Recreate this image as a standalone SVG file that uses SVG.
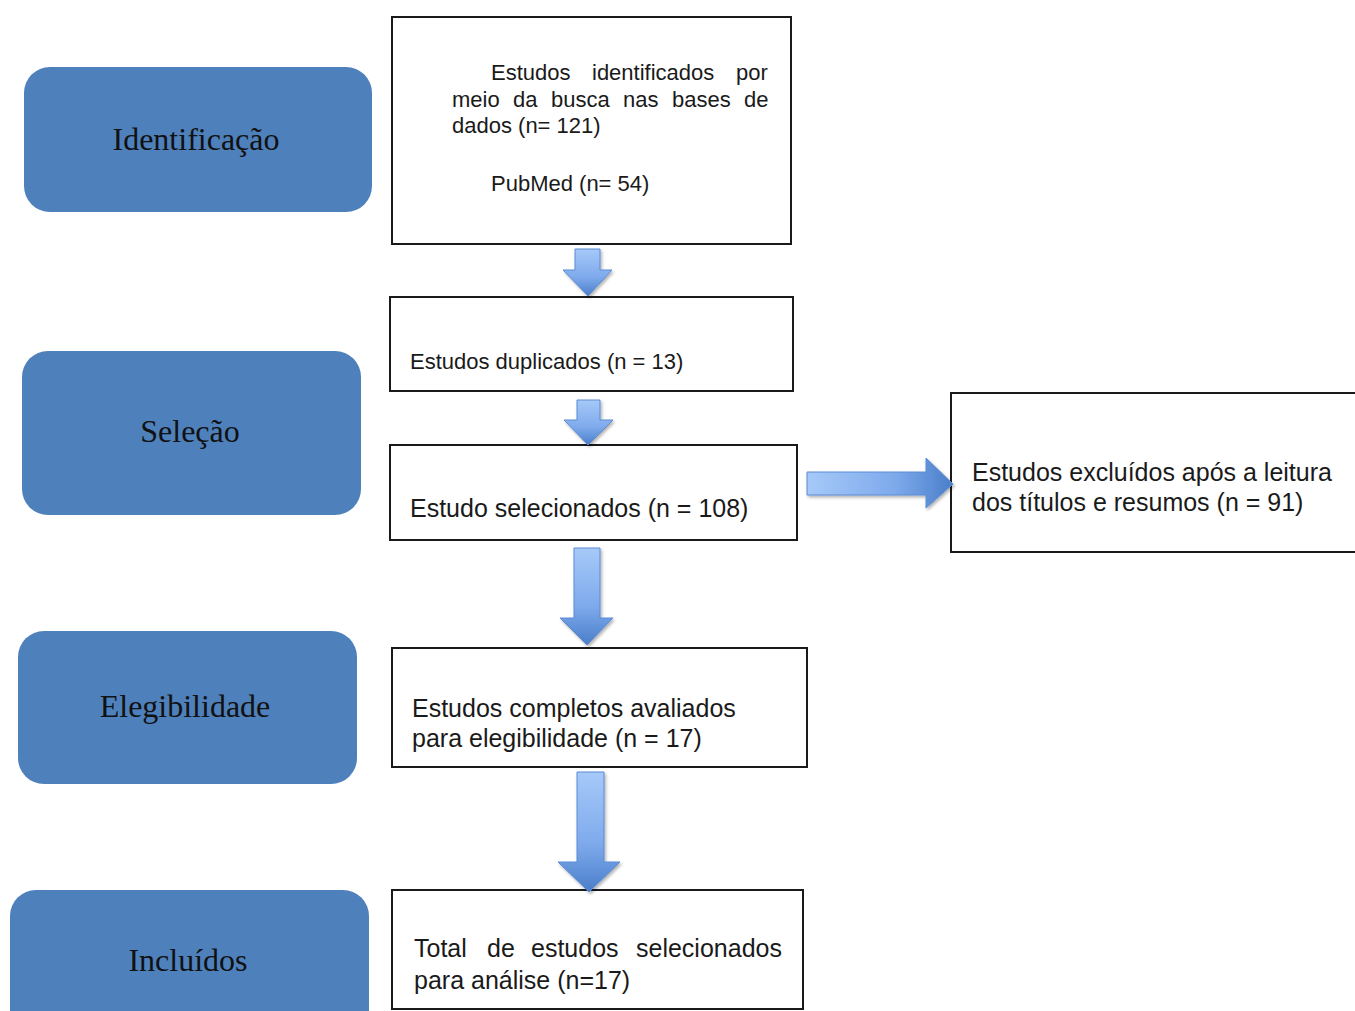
<svg xmlns="http://www.w3.org/2000/svg" width="1355" height="1011" viewBox="0 0 1355 1011">
<defs>
<linearGradient id="gv" x1="0" y1="0" x2="0" y2="1">
<stop offset="0" stop-color="#a6c9f8"/>
<stop offset="0.6" stop-color="#7eaaec"/>
<stop offset="1" stop-color="#4a7ec9"/>
</linearGradient>
<linearGradient id="gh" x1="0" y1="0" x2="1" y2="0">
<stop offset="0" stop-color="#a6c9f8"/>
<stop offset="0.6" stop-color="#7eaaec"/>
<stop offset="1" stop-color="#4a7ec9"/>
</linearGradient>
<filter id="sh" x="-30%" y="-30%" width="160%" height="160%">
<feDropShadow dx="1.5" dy="2" stdDeviation="1.8" flood-color="#000" flood-opacity="0.3"/>
</filter>
</defs>
<style>
.stage{fill:#4e80bc;}
.stxt{font-family:"Liberation Serif","Times New Roman",serif;font-size:32px;fill:#111;text-anchor:middle;}
.box{fill:#fff;stroke:#1a1a1a;stroke-width:2;}
.t22{font-family:"Liberation Sans",Arial,sans-serif;font-size:22px;fill:#1a1a1a;}
.t25{font-family:"Liberation Sans",Arial,sans-serif;font-size:25px;fill:#1a1a1a;}
.arr{stroke:#5b8bd3;stroke-width:1;filter:url(#sh);}
</style>
<rect width="1355" height="1011" fill="#fff"/>
<g id="stage-identificacao">
<rect class="stage" x="24" y="67" width="348" height="145" rx="26"/>
<text class="stxt" x="196" y="150">Identificação</text>
</g>
<g id="stage-selecao">
<rect class="stage" x="22" y="351" width="339" height="164" rx="26"/>
<text class="stxt" x="190" y="442">Seleção</text>
</g>
<g id="stage-elegibilidade">
<rect class="stage" x="18" y="631" width="339" height="153" rx="26"/>
<text class="stxt" x="185" y="717">Elegibilidade</text>
</g>
<g id="stage-incluidos">
<rect class="stage" x="10" y="890" width="359" height="160" rx="26"/>
<text class="stxt" x="188" y="971">Incluídos</text>
</g>
<g id="box-identificados">
<rect class="box" x="392" y="17" width="399" height="227"/>
<text class="t22" y="80"><tspan x="491">Estudos</tspan><tspan x="592">identificados</tspan><tspan x="736">por</tspan></text>
<text class="t22" y="107"><tspan x="452">meio</tspan><tspan x="513">da</tspan><tspan x="551">busca</tspan><tspan x="623">nas</tspan><tspan x="672">bases</tspan><tspan x="744">de</tspan></text>
<text class="t22" x="452" y="133">dados (n= 121)</text>
<text class="t22" x="491" y="191">PubMed (n= 54)</text>
</g>
<g id="box-duplicados">
<rect class="box" x="390" y="297" width="403" height="94"/>
<text class="t22" x="410" y="369">Estudos duplicados (n = 13)</text>
</g>
<g id="box-selecionados">
<rect class="box" x="390" y="445" width="407" height="95"/>
<text class="t25" x="410" y="517">Estudo selecionados (n = 108)</text>
</g>
<g id="box-excluidos">
<rect class="box" x="951" y="393" width="420" height="159"/>
<text class="t25" x="972" y="481">Estudos excluídos após a leitura</text>
<text class="t25" x="972" y="511">dos títulos e resumos (n = 91)</text>
</g>
<g id="box-completos">
<rect class="box" x="392" y="648" width="415" height="119"/>
<text class="t25" x="412" y="717">Estudos completos avaliados</text>
<text class="t25" x="412" y="747">para elegibilidade (n = 17)</text>
</g>
<g id="box-total">
<rect class="box" x="392" y="890" width="411" height="119"/>
<text class="t25" y="957"><tspan x="414">Total</tspan><tspan x="487">de</tspan><tspan x="531">estudos</tspan><tspan x="636">selecionados</tspan></text>
<text class="t25" x="414" y="989">para análise (n=17)</text>
</g>
<g id="connectors">
<path class="arr" fill="url(#gv)" d="M575,249 H600 V270 H612 L588,296 L563,270 H575 Z"/>
<path class="arr" fill="url(#gv)" d="M577,400 H600 V420 H613 L588,445 L564,420 H577 Z"/>
<path class="arr" fill="url(#gv)" d="M574,548 H600 V618 H613 L587,645 L560,618 H574 Z"/>
<path class="arr" fill="url(#gv)" d="M577,772 H604 V862 H620 L589,892 L558,862 H577 Z"/>
<path class="arr" fill="url(#gh)" d="M807,472 H926 V458 L953,484 L926,508 V495 H807 Z"/>
</g>
</svg>
